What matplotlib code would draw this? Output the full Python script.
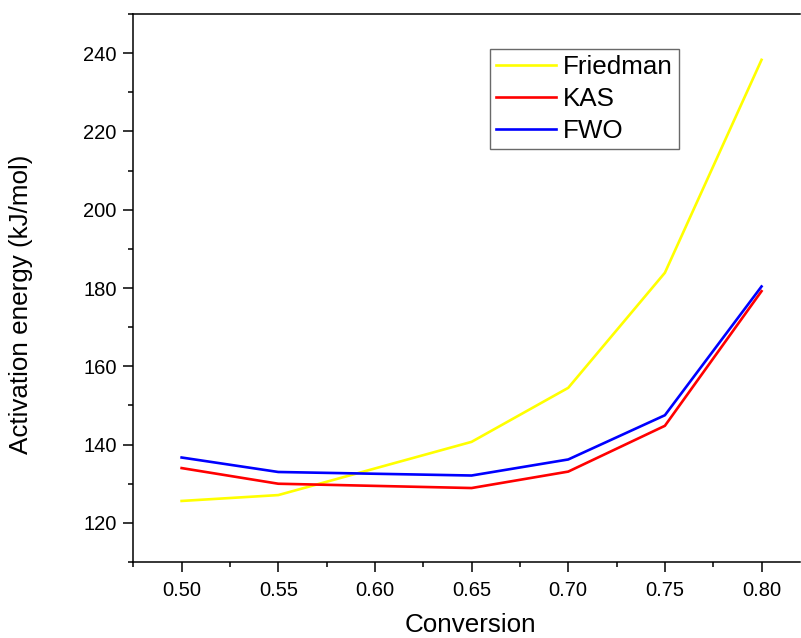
import numpy as np
import matplotlib
matplotlib.use('Agg')
import matplotlib.pyplot as plt
from matplotlib.ticker import MultipleLocator

plt.rcParams['font.family'] = ['Liberation Sans', 'DejaVu Sans']

# Data
conversion = [0.50, 0.55, 0.65, 0.70, 0.75, 0.80]
friedman = [125.6, 127.1, 140.7, 154.5, 183.9, 238.3]
kas = [134.0, 130.0, 128.9, 133.1, 144.8, 179.2]
fwo = [136.7, 133.0, 132.1, 136.2, 147.5, 180.4]

fig = plt.figure(figsize=(8.01, 6.38), dpi=100)
ax = fig.add_axes([0.1664, 0.1191, 0.8326, 0.8589])

ax.plot(conversion, friedman, color='#FFFF00', lw=1.9, label='Friedman')
ax.plot(conversion, kas, color='#FF0000', lw=1.9, label='KAS')
ax.plot(conversion, fwo, color='#0000FF', lw=1.9, label='FWO')

ax.set_xlim(0.475, 0.82)
ax.set_ylim(110, 250)
ax.xaxis.set_minor_locator(MultipleLocator(0.025))
ax.yaxis.set_minor_locator(MultipleLocator(10))
ax.set_xticks([0.50, 0.55, 0.60, 0.65, 0.70, 0.75, 0.80])
ax.set_xticklabels(['0.50', '0.55', '0.60', '0.65', '0.70', '0.75', '0.80'])
ax.set_yticks([120, 140, 160, 180, 200, 220, 240])

for s in ['left', 'bottom', 'top']:
    ax.spines[s].set_linewidth(1.1)
ax.spines['right'].set_visible(False)

ax.tick_params(which='major', direction='out', length=7, width=1.1,
               labelsize=14.5, pad=5, top=False, right=False)
ax.tick_params(axis='x', which='major', pad=7)
ax.tick_params(which='minor', direction='out', length=3.5, width=1.1,
               top=False, right=False)

ax.set_xlabel('Conversion', fontsize=18.7)
ax.set_ylabel('Activation energy (kJ/mol)', fontsize=18.7)
ax.xaxis.set_label_coords(0.506, -0.093)
ax.yaxis.set_label_coords(-0.15, 0.47)

leg = ax.legend(loc='upper left', bbox_to_anchor=(490 / 801, 1 - 48.7 / 638),
                bbox_transform=fig.transFigure, fontsize=18.7, frameon=True,
                fancybox=False, handlelength=2.3, handletextpad=0.26,
                labelspacing=0.3, borderpad=0.25, borderaxespad=0)
leg.get_frame().set_edgecolor('#444444')
leg.get_frame().set_linewidth(1.0)

fig.savefig('out.png', dpi=100)
